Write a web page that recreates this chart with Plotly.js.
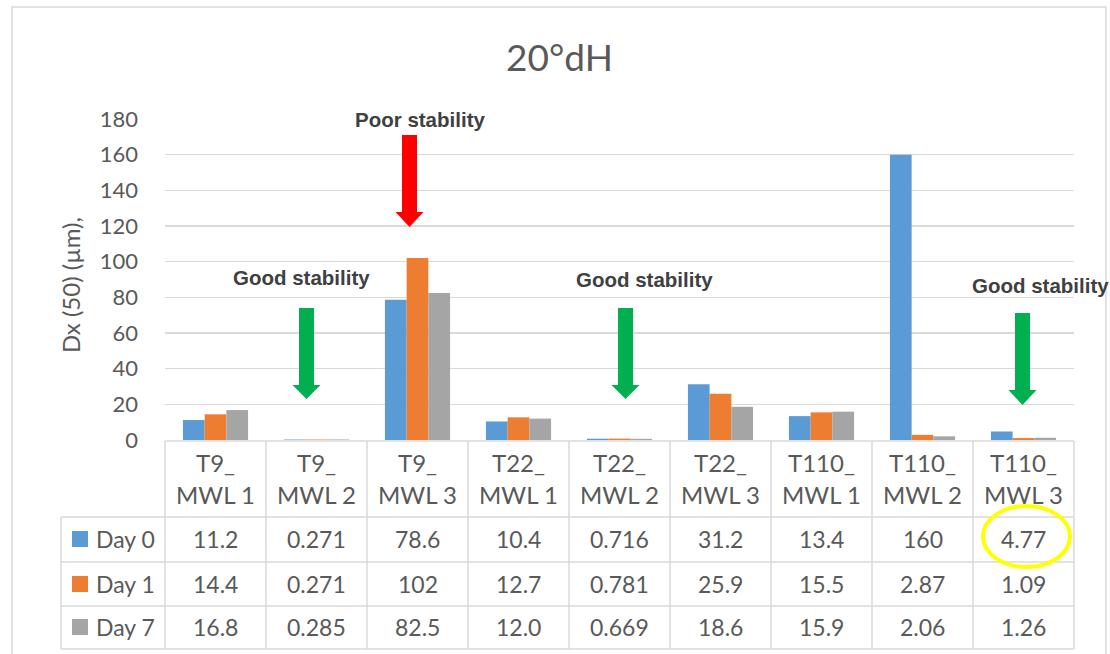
<!DOCTYPE html>
<html><head><meta charset="utf-8">
<script src="https://cdn.plot.ly/plotly-3.0.1.min.js"></script>
<style>html,body{margin:0;padding:0;background:#fff}#chart{width:1110px;height:654px}</style>
</head><body><div id="chart"></div>
<script>
// ---- data ----
var categoryTop = ["T9_", "T9_", "T9_", "T22_", "T22_", "T22_", "T110_", "T110_", "T110_"];
var categoryBottom = ["MWL 1", "MWL 2", "MWL 3", "MWL 1", "MWL 2", "MWL 3", "MWL 1", "MWL 2", "MWL 3"];
var seriesNames = ["Day 0", "Day 1", "Day 7"];
var day0 = [11.2, 0.271, 78.6, 10.4, 0.716, 31.2, 13.4, 160, 4.77];
var day1 = [14.4, 0.271, 102, 12.7, 0.781, 25.9, 15.5, 2.87, 1.09];
var day7 = [16.8, 0.285, 82.5, 12.0, 0.669, 18.6, 15.9, 2.06, 1.26];
var yTicks = [0, 20, 40, 60, 80, 100, 120, 140, 160, 180];

var colors = ["#5B9BD5", "#ED7D31", "#A5A5A5"];
var seriesValues = [day0, day1, day7];
var cats = categoryTop.map(function (t, i) { return t + " " + categoryBottom[i]; });

// plot area in pixels
var L = 165, R = 1074, T = 119, B = 440;
function xp(px) { return (px - L) / (R - L); }
function yp(py) { return (B - py) / (B - T); }

var FONT = "Lato, 'Open Sans', sans-serif";
var TXT = "#595959";
var GRID = "#D9D9D9";

var traces = seriesValues.map(function (vals, s) {
  return { type: "bar", x: cats, y: vals, name: seriesNames[s],
    marker: { color: colors[s], line: { width: 0 } }, hoverinfo: "skip" };
});

var shapes = [];
var annotations = [];

// outer chart frame
shapes.push({ type: "rect", xref: "paper", yref: "paper", x0: xp(12), x1: xp(1106), y0: yp(7), y1: yp(700),
  line: { color: GRID, width: 1.5 }, layer: "below" });

// table geometry
var nC = cats.length;
var rowY = [441, 517, 562, 606, 649];
function colX(i) { return L + i * (R - L) / nC; }
var lineStyle = { color: GRID, width: 1.5 };
shapes.push({ type: "line", xref: "paper", yref: "paper", x0: xp(L), x1: xp(R), y0: yp(rowY[0]), y1: yp(rowY[0]), line: lineStyle });
for (var r = 1; r < rowY.length; r++) {
  shapes.push({ type: "line", xref: "paper", yref: "paper", x0: xp(61), x1: xp(R), y0: yp(rowY[r]), y1: yp(rowY[r]), line: lineStyle });
}
for (var c = 0; c <= nC; c++) {
  shapes.push({ type: "line", xref: "paper", yref: "paper", x0: xp(colX(c)), x1: xp(colX(c)), y0: yp(rowY[0]), y1: yp(rowY[4]), line: lineStyle });
}
shapes.push({ type: "line", xref: "paper", yref: "paper", x0: xp(61), x1: xp(61), y0: yp(rowY[1]), y1: yp(rowY[4]), line: lineStyle });

// header labels
cats.forEach(function (cat, i) {
  annotations.push({ xref: "x", yref: "paper", x: cat, y: yp(463), text: categoryTop[i], showarrow: false,
    font: { family: FONT, size: 24, color: TXT }, xanchor: "center", yanchor: "middle" });
  annotations.push({ xref: "x", yref: "paper", x: cat, y: yp(494), text: categoryBottom[i], showarrow: false,
    font: { family: FONT, size: 24, color: TXT }, xanchor: "center", yanchor: "middle" });
});
// data rows
var rowCenters = [539, 584, 627];
seriesValues.forEach(function (vals, s) {
  var cy = rowCenters[s];
  shapes.push({ type: "rect", xref: "paper", yref: "paper", x0: xp(72), x1: xp(88), y0: yp(cy - 8), y1: yp(cy + 8),
    fillcolor: colors[s], line: { width: 0 } });
  annotations.push({ xref: "paper", yref: "paper", x: xp(94), y: yp(cy), text: seriesNames[s], showarrow: false,
    font: { family: FONT, size: 23, color: TXT }, xanchor: "left", yanchor: "middle" });
  vals.forEach(function (v, i) {
    annotations.push({ xref: "x", yref: "paper", x: cats[i], y: yp(cy), text: v.toPrecision(3), showarrow: false,
      font: { family: FONT, size: 23, color: TXT }, xanchor: "center", yanchor: "middle" });
  });
});

// yellow ellipse highlight
shapes.push({ type: "circle", xref: "paper", yref: "paper", x0: xp(983), x1: xp(1070), y0: yp(506), y1: yp(567),
  line: { color: "#FFFF00", width: 4 } });

// arrows
function arrowPath(cx, top, headStart, tip, shaftHalf, headHalf) {
  var pts = [[cx - shaftHalf, top], [cx + shaftHalf, top], [cx + shaftHalf, headStart], [cx + headHalf, headStart],
    [cx, tip], [cx - headHalf, headStart], [cx - shaftHalf, headStart]];
  return "M" + pts.map(function (p) { return xp(p[0]) + "," + yp(p[1]); }).join(" L") + " Z";
}
function addArrow(cx, top, headStart, tip, color) {
  shapes.push({ type: "path", xref: "paper", yref: "paper", path: arrowPath(cx, top, headStart, tip, 7.5, 14),
    fillcolor: color, line: { width: 0 } });
}
addArrow(409.5, 135, 212, 227, "#FF0000");
addArrow(306.5, 308, 385, 399, "#00B050");
addArrow(625.5, 308, 385, 399, "#00B050");
addArrow(1022.5, 313, 390, 405, "#00B050");

function addLabel(text, cx, cy) {
  annotations.push({ xref: "paper", yref: "paper", x: xp(cx), y: yp(cy), text: "<b>" + text + "</b>", showarrow: false,
    font: { family: "'Liberation Sans', Arial, sans-serif", size: 20.5, color: "#404040" }, xanchor: "center", yanchor: "middle" });
}
addLabel("Poor stability", 420, 119);
addLabel("Good stability", 301, 277);
addLabel("Good stability", 644, 279);
addLabel("Good stability", 1040, 285);

// title
annotations.push({ xref: "paper", yref: "paper", x: xp(559), y: yp(57), text: "20°dH", showarrow: false,
  font: { family: FONT, size: 37, color: TXT }, xanchor: "center", yanchor: "middle" });
// y-axis title
annotations.push({ xref: "paper", yref: "paper", x: xp(70), y: yp(285), text: "Dx (50) (µm),", showarrow: false, textangle: -90,
  font: { family: FONT, size: 24, color: TXT }, xanchor: "center", yanchor: "middle" });

var layout = {
  width: 1110, height: 654,
  margin: { l: L, r: 1110 - R, t: T, b: 654 - B, pad: 0 },
  paper_bgcolor: "#ffffff", plot_bgcolor: "#ffffff",
  showlegend: false,
  barmode: "group", bargap: 0.355, bargroupgap: 0,
  xaxis: { type: "category", showticklabels: false, showgrid: false, zeroline: false, showline: false, ticks: "", fixedrange: true },
  yaxis: { range: [0, 180], tickvals: yTicks, ticktext: yTicks.map(String), showgrid: true, gridcolor: GRID, gridwidth: 1.5,
    zeroline: false, showline: false, ticks: "", ticklabelstandoff: 26,
    tickfont: { family: FONT, size: 22, color: TXT }, fixedrange: true },
  shapes: shapes,
  annotations: annotations,
  hovermode: false
};

Plotly.newPlot("chart", traces, layout, { staticPlot: true, displayModeBar: false });
</script>
</body></html>
